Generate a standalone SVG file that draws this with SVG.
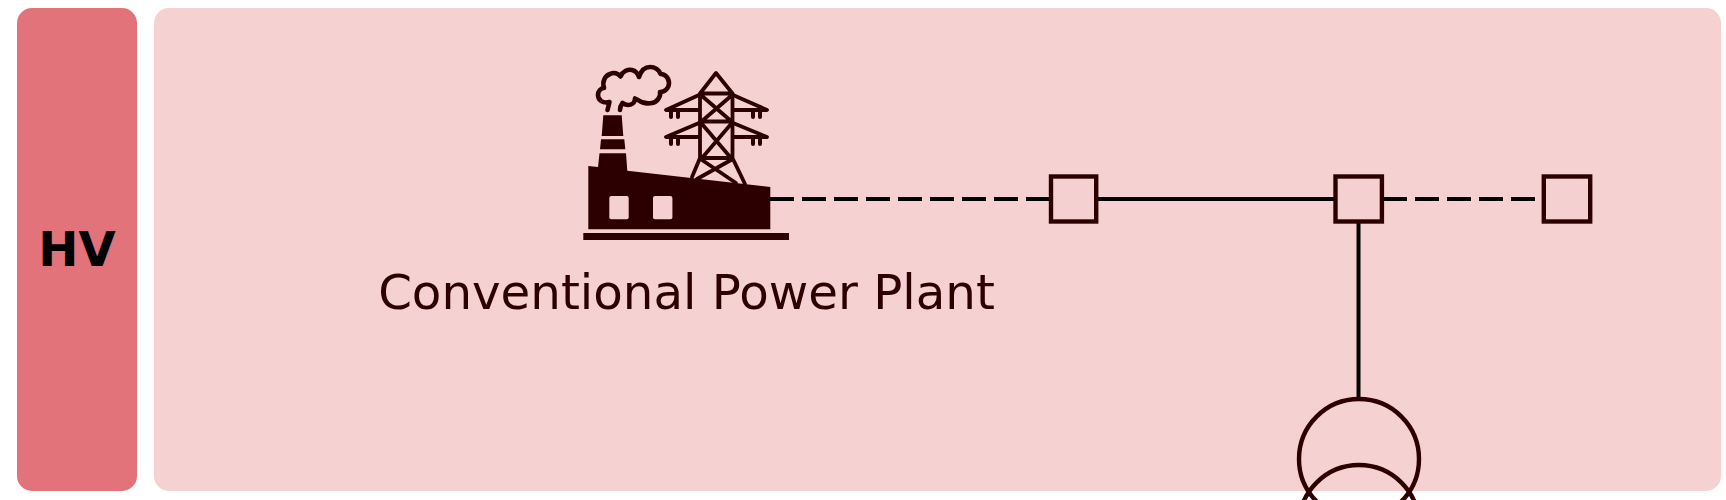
<svg xmlns="http://www.w3.org/2000/svg" width="1726" height="500" viewBox="0 0 1726 500">
<style>
text{font-family:"DejaVu Sans",sans-serif}
.conn{fill:none;stroke:#000;stroke-width:4}
.dash{stroke-dasharray:24 8}
.node{fill:none;stroke:#2d0000;stroke-width:4.4}
.bus{fill:#f5d0d0;stroke:#2d0000;stroke-width:4.4}
.ic{fill:#2d0000}
.il{fill:none;stroke:#2d0000;stroke-width:3.8;stroke-linecap:round;stroke-linejoin:round}
.ins{fill:none;stroke:#2d0000;stroke-width:4;stroke-linecap:round}
.smoke{fill:none;stroke:#2d0000;stroke-width:4.6;stroke-linecap:round;stroke-linejoin:round}
.win{fill:#f5d0d0}
</style>
<rect id="hv-band" x="17" y="8" width="120" height="483" rx="15" fill="#e2737a"/>
<rect id="hv-panel" x="154" y="8" width="1567" height="483" rx="15" fill="#f5d1d1"/>
<text x="77" y="265.500" font-size="48" font-weight="700" text-anchor="middle" fill="#000">HV</text>
<g id="connectors">
<path class="conn dash" d="M770 199H1051"/>
<path class="conn" d="M1096 199H1336"/>
<path class="conn dash" d="M1383 199H1544"/>
<path class="conn" d="M1358.500 221V399"/>
</g>
<g id="plant">
<path class="il" d="M716 73L700 93.500H732.500ZM700 93.500V158H732.500V93.500M700 121.500H732.500M702 96L731 121M731 96L702 121M702 124L731 158M731 124L702 158M700 158L692 177M732.500 158L745 184M702 160L736 183M731 160L697 179"/>
<path class="il" d="M699 95L666 110H699M699 123L666 137H699M733 95L767 110H733M733 123L767 137H733"/>
<path class="ins" d="M671 111V117M678 111V117M671 138V144M678 138V144M753 111V117M760 111V117M753 138V144M760 138V144"/>
<path class="smoke" d="M607.500 110L609.500 102C603 104 598 100 598 95C598 91 601 88 604 88C602 81 605 76 610 74C614 72 618 73 620.500 76.500C623 71 628 69 632 70C636 71 638 74 639 77C641 71 645 67 650 67C655 67 659 70 660.500 74C665 74 669 78 669 83C669 88 665 92 660 92C661 97 657 102 652 103C647 104 642 103 638 100L635 98.500C635 103 631 105 628 105C626 105 624 104 622.500 103C621 105 620 107 620 110"/>
<path class="ic" d="M603.300 115.300H621.700L623.300 136H601.700ZM601 139.300H624.300L625.300 149.300H600ZM588.300 166L598 167L599.500 153.300H626L627.300 170.700L770.300 187V229.300H588.300Z"/>
<rect class="ic" x="583.300" y="233" width="205.700" height="7"/>
<rect class="win" x="609.300" y="196" width="19.400" height="23.300" rx="2"/>
<rect class="win" x="653" y="196" width="19.400" height="23.300" rx="2"/>
<text x="686.500" y="309" font-size="48.300" text-anchor="middle" fill="#2d0000">Conventional Power Plant</text>
</g>
<g id="bus-1"><rect class="bus" x="1051" y="176.500" width="45.200" height="45"/></g>
<g id="bus-2"><rect class="bus" x="1335.500" y="176.500" width="46.400" height="45"/></g>
<g id="bus-3"><rect class="bus" x="1543.800" y="176.500" width="46.400" height="45"/></g>
<g id="transformer">
<circle class="node" cx="1359" cy="459" r="60"/>
<circle class="node" cx="1359" cy="525" r="60"/>
</g>
</svg>
